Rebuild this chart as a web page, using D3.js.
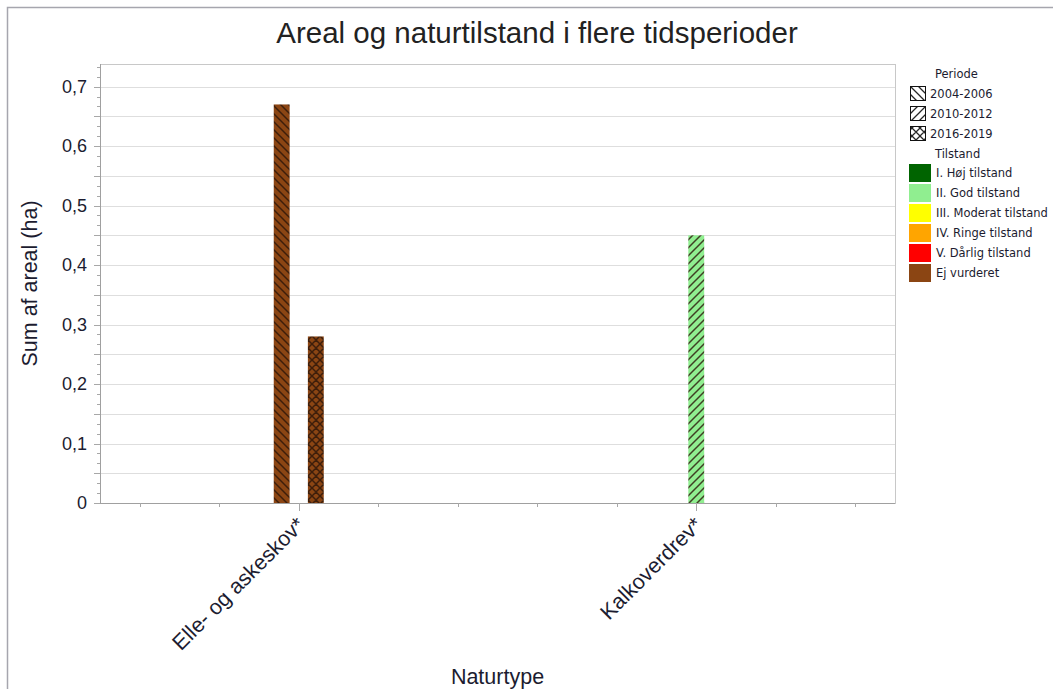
<!DOCTYPE html>
<html>
<head>
<meta charset="utf-8">
<script src="https://cdn.jsdelivr.net/npm/d3@7/dist/d3.min.js"></script>
<style>
  html, body { margin: 0; padding: 0; background: #fff; }
  svg { display: block; }
</style>
</head>
<body>
<svg id="chart" width="1053" height="689"></svg>
<script>
// ---- DATA ----
const categories = ["Elle- og askeskov*", "Kalkoverdrev*"];
const periods = ["2004-2006", "2010-2012", "2016-2019"];
const tilstande = ["I. Høj tilstand", "II. God tilstand", "III. Moderat tilstand", "IV. Ringe tilstand", "V. Dårlig tilstand", "Ej vurderet"];
const tilstandColors = ["#006400", "#90EE90", "#FFFF00", "#FFA500", "#FF0000", "#8B4513"];
// bars: category, period, tilstand, value
const barCategory = ["Elle- og askeskov*", "Elle- og askeskov*", "Kalkoverdrev*"];
const barPeriod   = ["2004-2006", "2016-2019", "2010-2012"];
const barTilstand = ["Ej vurderet", "Ej vurderet", "II. God tilstand"];
const barValue    = [0.67, 0.28, 0.45];
const yTickValues = [0, 0.1, 0.2, 0.3, 0.4, 0.5, 0.6, 0.7];
const yTickLabels = ["0", "0,1", "0,2", "0,3", "0,4", "0,5", "0,6", "0,7"];

const bars = barValue.map((v, i) => ({cat: barCategory[i], per: barPeriod[i], til: barTilstand[i], value: v}));

// ---- LAYOUT ----
const svg = d3.select("#chart");
const W = 1053, H = 689;
const m = {left: 100, right: 895, top: 64, bottom: 503};
const FONT = "Liberation Sans, Arial, sans-serif";

// outer border
svg.append("path").attr("d", `M7.5,${H} L7.5,7.5 L${W},7.5`).attr("fill", "none").attr("stroke", "#a6a6ae").attr("stroke-width", 1.5);

const x = d3.scaleBand().domain(categories).range([m.left, m.right]);
const y = d3.scaleLinear().domain([0, 0.738]).range([m.bottom, m.top]);
const inner = d3.scaleBand().domain(periods).range([-25, 25]).paddingInner(0.07);

const colorOf = d3.scaleOrdinal().domain(tilstande).range(tilstandColors);

// ---- patterns ----
const defs = svg.append("defs");
const patPaths = {
  "2004-2006": "M0,0 L8,8 M-4,4 L4,12 M4,-4 L12,4",
  "2010-2012": "M0,8 L8,0 M-4,4 L4,-4 M4,12 L12,4",
  "2016-2019": "M0,0 L8,8 M-4,4 L4,12 M4,-4 L12,4 M0,8 L8,0 M-4,4 L4,-4 M4,12 L12,4"
};
function patId(per, col) { return "p" + periods.indexOf(per) + "_" + col.replace("#", ""); }
const needed = new Set();
bars.forEach(b => needed.add(b.per + "|" + colorOf(b.til)));
periods.forEach(p => needed.add(p + "|#ffffff"));
needed.forEach(k => {
  const [per, col] = k.split("|");
  const isLegend = col === "#ffffff";
  const pat = defs.append("pattern").attr("id", patId(per, col))
    .attr("patternUnits", "userSpaceOnUse").attr("width", 8).attr("height", 8);
  pat.append("rect").attr("width", 8).attr("height", 8).attr("fill", col);
  pat.append("path").attr("d", patPaths[per])
    .attr("stroke", isLegend ? "#111" : "#2a1408")
    .attr("stroke-opacity", isLegend ? 0.9 : 0.8)
    .attr("stroke-width", isLegend ? 1.3 : 1.5).attr("fill", "none");
});

// ---- grid ----
const gridVals = d3.range(1, 15).map(i => i * 0.05).filter(v => y(v) > m.top + 1);
svg.append("g").selectAll("line").data(gridVals).join("line")
  .attr("x1", m.left).attr("x2", m.right)
  .attr("y1", d => Math.round(y(d)) + 0.5).attr("y2", d => Math.round(y(d)) + 0.5)
  .attr("stroke", "#dedede").attr("stroke-width", 1);

// plot frame
svg.append("rect").attr("x", m.left + 0.5).attr("y", m.top + 0.5)
  .attr("width", m.right - m.left).attr("height", m.bottom - m.top)
  .attr("fill", "none").attr("stroke", "#c8c8c8");

// ---- y axis ----
const yAxis = svg.append("g");
yAxis.append("line").attr("x1", m.left + 0.5).attr("x2", m.left + 0.5).attr("y1", m.top).attr("y2", m.bottom)
  .attr("stroke", "#a0a0a0");
const minorY = d3.range(0, 45).map(i => i * 0.1 / 6).filter(v => y(v) >= m.top - 0.5);
yAxis.selectAll(".mt").data(minorY).join("line")
  .attr("x1", m.left - 3).attr("x2", m.left)
  .attr("y1", d => Math.round(y(d)) + 0.5).attr("y2", d => Math.round(y(d)) + 0.5)
  .attr("stroke", "#a8a8a8");
yAxis.selectAll(".Mt").data(d3.range(0, 15).map(i => i * 0.05).filter(v => y(v) >= m.top)).join("line")
  .attr("x1", m.left - 6).attr("x2", m.left)
  .attr("y1", d => Math.round(y(d)) + 0.5).attr("y2", d => Math.round(y(d)) + 0.5)
  .attr("stroke", "#a8a8a8");
yAxis.selectAll("text").data(yTickValues).join("text")
  .attr("x", 87).attr("y", d => y(d)).attr("dy", "0.35em")
  .attr("text-anchor", "end").attr("font-family", FONT)
  .attr("font-size", 18).attr("fill", "#1c1c30")
  .text((d, i) => yTickLabels[i]);

// ---- x axis ----
const xAxis = svg.append("g");
xAxis.append("line").attr("x1", m.left).attr("x2", m.right).attr("y1", m.bottom + 0.5).attr("y2", m.bottom + 0.5)
  .attr("stroke", "#a0a0a0");
const bw = x.bandwidth();
const minorX = d3.range(0, 10).map(i => m.left + bw / 10 + i * bw / 5);
xAxis.selectAll(".mx").data(minorX).join("line")
  .attr("x1", d => Math.round(d) + 0.5).attr("x2", d => Math.round(d) + 0.5)
  .attr("y1", m.bottom).attr("y2", m.bottom + 4).attr("stroke", "#a8a8a8");
xAxis.selectAll(".Mx").data(categories).join("line")
  .attr("x1", d => Math.round(x(d) + bw / 2) + 0.5).attr("x2", d => Math.round(x(d) + bw / 2) + 0.5)
  .attr("y1", m.bottom).attr("y2", m.bottom + 8).attr("stroke", "#a8a8a8");
xAxis.selectAll("text").data(categories).join("text")
  .attr("transform", d => `translate(${x(d) + bw / 2 + 2},${m.bottom + 18}) rotate(-45)`)
  .attr("text-anchor", "end").attr("dy", "0.35em")
  .attr("font-family", FONT).attr("font-size", 21.5).attr("fill", "#1c1c30")
  .text(d => d);

// ---- bars ----
svg.append("g").selectAll("rect").data(bars).join("rect")
  .attr("x", d => x(d.cat) + bw / 2 + inner(d.per))
  .attr("width", inner.bandwidth())
  .attr("y", d => y(d.value))
  .attr("height", d => y(0) - y(d.value))
  .attr("fill", d => `url(#${patId(d.per, colorOf(d.til))})`);

// ---- titles ----
svg.append("text").attr("x", 537).attr("y", 43).attr("text-anchor", "middle")
  .attr("font-family", FONT).attr("font-size", 29.5).attr("fill", "#222")
  .text("Areal og naturtilstand i flere tidsperioder");
svg.append("text").attr("transform", `translate(37,${(m.top + m.bottom) / 2}) rotate(-90)`)
  .attr("text-anchor", "middle")
  .attr("font-family", FONT).attr("font-size", 21.5).attr("fill", "#1c1c30")
  .text("Sum af areal (ha)");
svg.append("text").attr("x", (m.left + m.right) / 2).attr("y", 684).attr("text-anchor", "middle")
  .attr("font-family", FONT).attr("font-size", 21.5).attr("fill", "#1c1c30")
  .text("Naturtype");

// ---- legend ----
const lg = svg.append("g").attr("font-family", "DejaVu Sans, sans-serif").attr("font-size", 11.5).attr("fill", "#1c1c30");
lg.append("text").attr("x", 935).attr("y", 78).text("Periode");
periods.forEach((p, i) => {
  const yy = 86 + i * 20;
  lg.append("rect").attr("x", 910.5).attr("y", yy + 0.5).attr("width", 15).attr("height", 14)
    .attr("fill", `url(#${patId(p, "#ffffff")})`).attr("stroke", "#111");
  lg.append("text").attr("x", 930).attr("y", yy + 12).text(p);
});
lg.append("text").attr("x", 935).attr("y", 158).text("Tilstand");
tilstande.forEach((t, i) => {
  const yy = 164 + i * 20;
  lg.append("rect").attr("x", 909).attr("y", yy).attr("width", 22).attr("height", 18)
    .attr("fill", tilstandColors[i]);
  lg.append("text").attr("x", 936).attr("y", yy + 13).text(t);
});
</script>
</body>
</html>
